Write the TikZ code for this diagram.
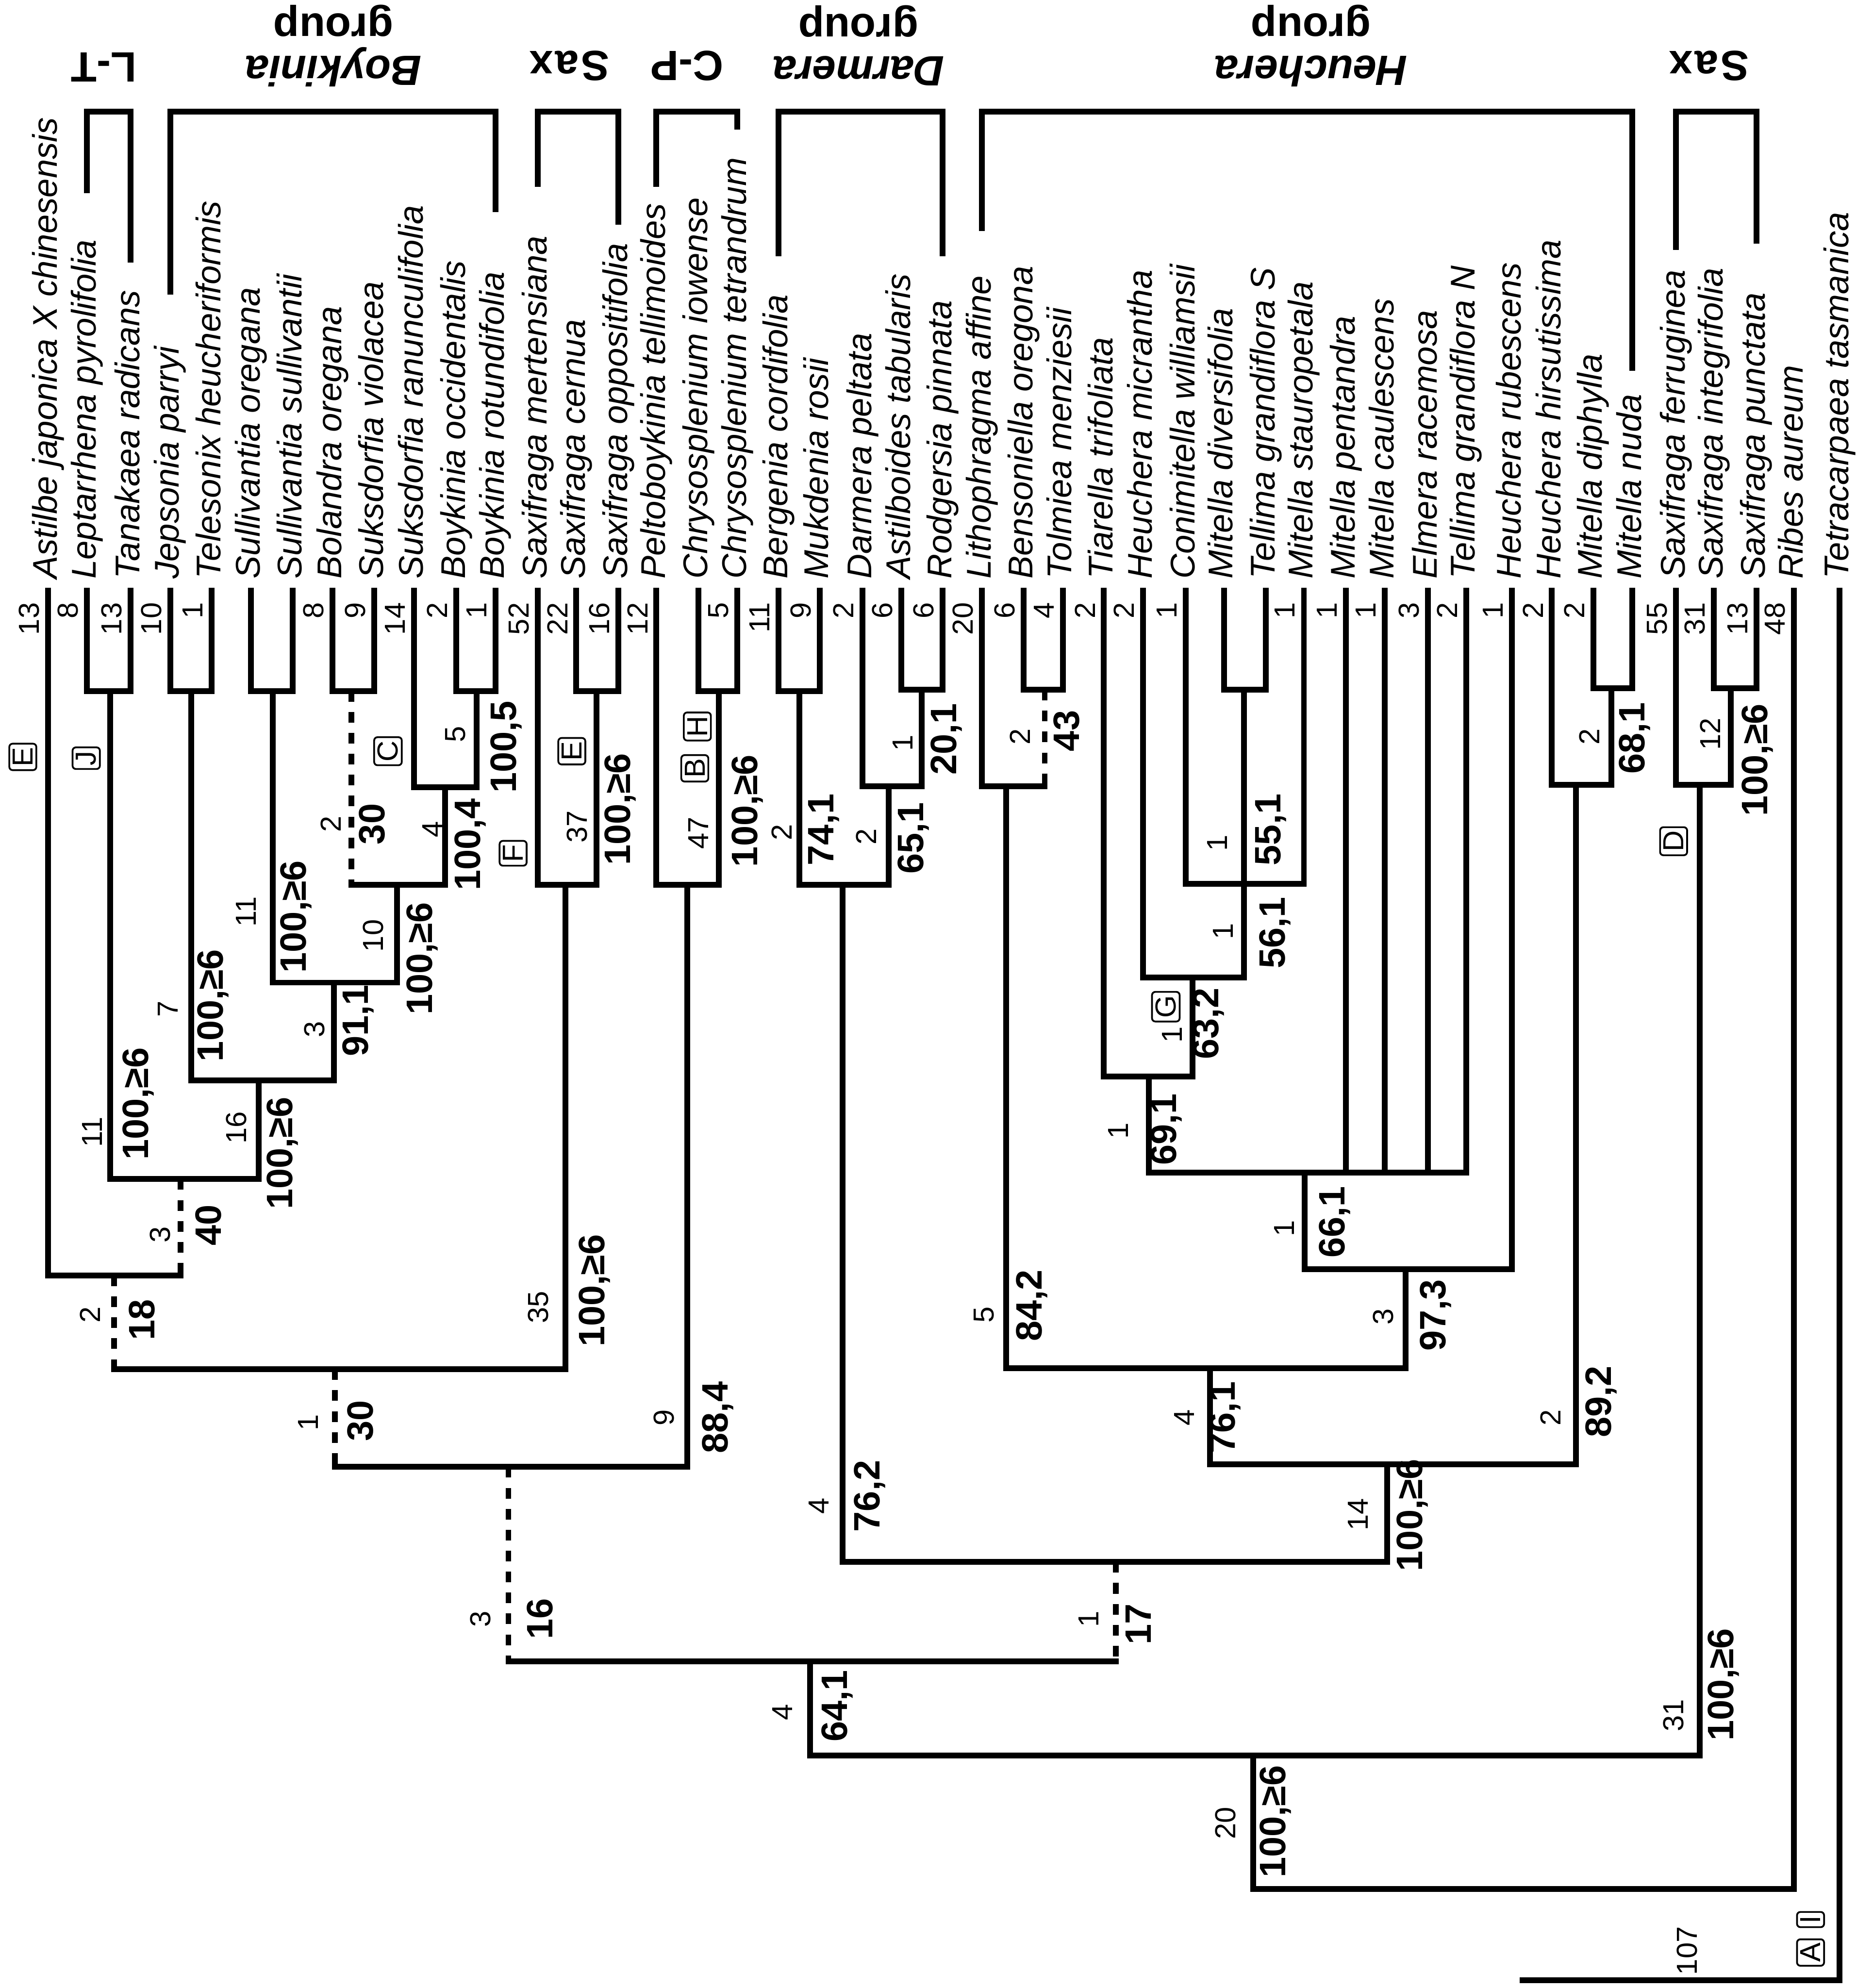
\documentclass[tikz,border=0pt]{standalone}
\usepackage{fontspec}
\setmainfont{Liberation Sans}
\usepackage{tikz}
\usetikzlibrary{positioning}

\begin{document}
\begin{tikzpicture}[x=0.02cm, y=-0.02cm,
  taxon/.style={rotate=90, anchor=west, inner sep=0pt, text height=11pt, text depth=3pt, font=\fontsize{15.4}{16}\selectfont\itshape},
  blen/.style={rotate=90, inner sep=0pt, font=\fontsize{13}{13}\selectfont},
  leaflen/.style={blen, anchor=east},
  boot/.style={rotate=90, inner sep=0pt, font=\fontsize{16.5}{16.5}\selectfont\bfseries},
  charbox/.style={rotate=90, draw, rounded corners=1.5pt, line width=0.8pt, inner sep=1.6pt, font=\fontsize{13}{13}\selectfont},
  grp/.style={rotate=180, align=center, inner sep=0pt, font=\fontsize{19}{19}\selectfont\bfseries},
  tree/.style={line width=2.6pt, line cap=rect},
  dotstem/.style={line width=2.6pt, dash pattern=on 4.8pt off 4.6pt},
  brk/.style={line width=2.6pt, line cap=rect}
]
\fill[white] (0,0) rectangle (1477,1568);
\useasboundingbox (0,0) rectangle (1477,1568);

% taxa
\node (astilbe) [taxon] at (37.9,457) {Astilbe japonica X chinesensis};
\node (leptarrhena) [taxon] at (68.6,457) {Leptarrhena pyrolifolia};
\node (tanakaea) [taxon] at (103,457) {Tanakaea radicans};
\node (jepsonia) [taxon] at (134.2,457) {Jepsonia parryi};
\node (telesonix) [taxon] at (167,457) {Telesonix heucheriformis};
\node (sulore) [taxon] at (198,457) {Sullivantia oregana};
\node (sulsul) [taxon] at (231,457) {Sullivantia sullivantii};
\node (bolandra) [taxon] at (262.4,457) {Bolandra oregana};
\node (suksvio) [taxon] at (295.1,457) {Suksdorfia violacea};
\node (suksran) [taxon] at (326.5,457) {Suksdorfia ranunculifolia};
\node (boyocc) [taxon] at (359.9,457) {Boykinia occidentalis};
\node (boyrot) [taxon] at (390.7,457) {Boykinia rotundifolia};
\node (saxmer) [taxon] at (424.1,457) {Saxifraga mertensiana};
\node (saxcer) [taxon] at (454.5,457) {Saxifraga cernua};
\node (saxopp) [taxon] at (487.7,457) {Saxifraga oppositifolia};
\node (pelto) [taxon] at (517.7,457) {Peltoboykinia tellimoides};
\node (chryiow) [taxon] at (550.9,457) {Chrysosplenium iowense};
\node (chrytet) [taxon] at (581.5,457) {Chrysosplenium tetrandrum};
\node (bergenia) [taxon] at (614,457) {Bergenia cordifolia};
\node (mukdenia) [taxon] at (646.4,457) {Mukdenia rosii};
\node (darmera) [taxon] at (680.3,457) {Darmera peltata};
\node (astilboides) [taxon] at (711,457) {Astilboides tabularis};
\node (rodgersia) [taxon] at (743.5,457) {Rodgersia pinnata};
\node (litho) [taxon] at (774.4,457) {Lithophragma affine};
\node (bensoniella) [taxon] at (807.4,457) {Bensoniella oregona};
\node (tolmiea) [taxon] at (838.2,457) {Tolmiea menziesii};
\node (tiarella) [taxon] at (870.6,457) {Tiarella trifoliata};
\node (heumic) [taxon] at (901.4,457) {Heuchera micrantha};
\node (conimitella) [taxon] at (935.3,457) {Conimitella williamsii};
\node (mitdiv) [taxon] at (965.3,457) {Mitella diversifolia};
\node (telS) [taxon] at (998.4,457) {Tellima grandiflora S};
\node (mitsta) [taxon] at (1028.4,457) {Mitella stauropetala};
\node (mitpen) [taxon] at (1061.6,457) {Mitella pentandra};
\node (mitcau) [taxon] at (1092.3,457) {Mitella caulescens};
\node (elmera) [taxon] at (1126.3,457) {Elmera racemosa};
\node (telN) [taxon] at (1156.3,457) {Tellima grandiflora N};
\node (heurub) [taxon] at (1192.4,457) {Heuchera rubescens};
\node (heuhir) [taxon] at (1224,457) {Heuchera hirsutissima};
\node (mitdip) [taxon] at (1256.6,457) {Mitella diphylla};
\node (mitnud) [taxon] at (1287.3,457) {Mitella nuda};
\node (saxfer) [taxon] at (1321.9,457) {Saxifraga ferruginea};
\node (saxint) [taxon] at (1351.6,457) {Saxifraga integrifolia};
\node (saxpun) [taxon] at (1385.2,457) {Saxifraga punctata};
\node (ribes) [taxon] at (1415,457) {Ribes aureum};
\node (tetra) [taxon] at (1451,457) {Tetracarpaea tasmanica};

% group brackets and names
\coordinate (brkY) at (0,88);
\coordinate (labY) at (0,475);
\draw[brk] (leptarrhena |- 0,150) -- (leptarrhena |- brkY) -- (tanakaea |- brkY) -- (tanakaea |- 0,205);
\draw[brk] (jepsonia |- 0,230) -- (jepsonia |- brkY) -- (boyrot |- brkY) -- (boyrot |- 0,165);
\draw[brk] (saxmer |- 0,145) -- (saxmer |- brkY) -- (saxopp |- brkY) -- (saxopp |- 0,175);
\draw[brk] (pelto |- 0,145) -- (pelto |- brkY) -- (chrytet |- brkY) -- (chrytet |- 0,100);
\draw[brk] (bergenia |- 0,200) -- (bergenia |- brkY) -- (rodgersia |- brkY) -- (rodgersia |- 0,200);
\draw[brk] (litho |- 0,180) -- (litho |- brkY) -- (mitnud |- brkY) -- (mitnud |- 0,290);
\draw[brk] (saxfer |- 0,195) -- (saxfer |- brkY) -- (saxpun |- brkY) -- (saxpun |- 0,190);
\node (lt) [grp] at (82,53) {L-T};
\node (boykgrp) [grp] at (263,36) {\textit{Boykinia}\\group};
\node (saxl) [grp] at (449,52) {S\hspace{1pt}a\hspace{1pt}x};
\node (cp) [grp] at (542,52) {C-P};
\node (darmgrp) [grp] at (677,36) {\textit{Darmera}\\group};
\node (heucgrp) [grp] at (1034,36) {\textit{Heuchera}\\group};
\node (saxr) [grp] at (1348,52) {S\hspace{1pt}a\hspace{1pt}x};

% internal nodes (stem x, bar y)
\coordinate (nLT) at (87,545);
\coordinate (nJT) at (150.8,545);
\coordinate (nSul) at (215,545);
\coordinate (nBS) at (277,545);
\coordinate (nBoy) at (376,545);
\coordinate (nSR) at (351,621);
\coordinate (nBSR) at (313,698);
\coordinate (nSB) at (263.5,775);
\coordinate (nBG) at (204,852);
\coordinate (nH) at (142.5,930);
\coordinate (nG) at (90,1006);
\coordinate (nSaxA) at (470.5,545);
\coordinate (nSax) at (446,698);
\coordinate (nF) at (264,1080);
\coordinate (nChr) at (567,545);
\coordinate (nCP) at (542,698);
\coordinate (nD) at (401,1157);
\coordinate (nBM) at (630.5,545);
\coordinate (nAR) at (727,544);
\coordinate (nDA) at (701,620);
\coordinate (nDar) at (664.5,698);
\coordinate (nBT) at (824,544);
\coordinate (nLith) at (793.5,620);
\coordinate (nP) at (981,544);
\coordinate (nQ) at (981,697);
\coordinate (nR) at (940.5,771);
\coordinate (nS) at (906,849);
\coordinate (nT) at (1029,925);
\coordinate (nU) at (1108.5,1001);
\coordinate (nV) at (954.5,1079);
\coordinate (nMD) at (1271,543);
\coordinate (nHM) at (1243,619);
\coordinate (nW) at (1094,1155);
\coordinate (nE) at (880,1232);
\coordinate (nC) at (639,1310.5);
\coordinate (nSI) at (1365,543);
\coordinate (nSx) at (1340.5,619);
\coordinate (nB) at (988.5,1384.5);
\coordinate (nA) at (1201,1490);
\coordinate (nRoot) at (1326,1562);

% leaf branches
\foreach \c/\p in {astilbe/nG, leptarrhena/nLT, tanakaea/nLT, jepsonia/nJT, telesonix/nJT,
  sulore/nSul, sulsul/nSul, bolandra/nBS, suksvio/nBS, suksran/nSR, boyocc/nBoy, boyrot/nBoy,
  saxmer/nSax, saxcer/nSaxA, saxopp/nSaxA, pelto/nCP, chryiow/nChr, chrytet/nChr,
  bergenia/nBM, mukdenia/nBM, darmera/nDA, astilboides/nAR, rodgersia/nAR,
  litho/nLith, bensoniella/nBT, tolmiea/nBT, tiarella/nS, heumic/nR, conimitella/nQ,
  mitdiv/nP, telS/nP, mitsta/nQ, mitpen/nT, mitcau/nT, elmera/nT, telN/nT, heurub/nU,
  heuhir/nHM, mitdip/nMD, mitnud/nMD, saxfer/nSx, saxint/nSI, saxpun/nSI, ribes/nA, tetra/nRoot}
  \draw[tree] ([yshift=-5pt]\c.west) -- (\c |- \p);

% internal branches
\foreach \c/\p in {nLT/nH, nJT/nBG, nSul/nSB, nBoy/nSR, nSR/nBSR, nBSR/nSB, nSB/nBG, nBG/nH,
  nSaxA/nSax, nSax/nF, nChr/nCP, nCP/nD, nBM/nDar, nAR/nDA, nDA/nDar, nDar/nE, nLith/nV,
  nP/nQ, nQ/nR, nR/nS, nS/nT, nT/nU, nU/nV, nV/nW, nMD/nHM, nHM/nW, nW/nE,
  nSI/nSx, nSx/nB, nC/nB, nB/nA}
  \draw[tree] (\c) -- (\c |- \p);
\foreach \c/\p in {nBS/nBSR, nH/nG, nG/nF, nF/nD, nD/nC, nE/nC, nBT/nLith}
  \draw[dotstem] (\c) -- (\c |- \p);

% bars
\foreach \a/\b/\n in {leptarrhena/tanakaea/nLT, jepsonia/telesonix/nJT, sulore/sulsul/nSul,
  bolandra/suksvio/nBS, boyocc/boyrot/nBoy, suksran/nBoy/nSR, nBS/nSR/nBSR, nSul/nBSR/nSB,
  nJT/nSB/nBG, nLT/nBG/nH, astilbe/nH/nG, saxcer/saxopp/nSaxA, saxmer/nSaxA/nSax, nG/nSax/nF,
  chryiow/chrytet/nChr, pelto/nChr/nCP, nF/nCP/nD, bergenia/mukdenia/nBM,
  astilboides/rodgersia/nAR, darmera/nAR/nDA, nBM/nDA/nDar, bensoniella/tolmiea/nBT,
  litho/nBT/nLith, mitdiv/telS/nP, conimitella/mitsta/nQ, heumic/nQ/nR, tiarella/nR/nS,
  nS/telN/nT, nT/heurub/nU, nLith/nU/nV, mitdip/mitnud/nMD, heuhir/nMD/nHM, nV/nHM/nW,
  nDar/nW/nE, nD/nE/nC, saxint/saxpun/nSI, saxfer/nSI/nSx, nC/nSx/nB, nB/ribes/nA, nA/tetra/nRoot}
  \draw[tree] (\a |- \n) -- (\b |- \n);

% lengths on terminal branches
\foreach \c/\t [count=\i] in {astilbe/13, leptarrhena/8, tanakaea/13, jepsonia/10, telesonix/1,
  bolandra/8, suksvio/9, suksran/14, boyocc/2, boyrot/1, saxmer/52, saxcer/22, saxopp/16,
  pelto/12, chrytet/5, bergenia/11, mukdenia/9, darmera/2, astilboides/6, rodgersia/6,
  litho/20, bensoniella/6, tolmiea/4, tiarella/2, heumic/2, conimitella/1, mitsta/1, mitpen/1,
  mitcau/1, elmera/3, telN/2, heurub/1, heuhir/2, mitdip/2, saxfer/55, saxint/31, saxpun/13, ribes/48}
  \node (tip\i) [leaflen] at ([xshift=-8.5pt]\c |- labY) {\t};

% lengths on internal branches
\foreach \x/\y/\t [count=\i] in {261/650/2, 341/654/4, 359/579/5, 294.4/738/10, 194/719/11,
  132.6/796/7, 248/812/3, 72.6/893/11, 186.3/889.5/16, 126.3/974/3, 71/1037/2, 424.7/1031/35,
  243.2/1122/1, 455/652/37, 551/657/47, 616.5/656.6/2, 683/660/2, 712/586/1, 804.7/581/2,
  960/665/1, 964.5/734.5/1, 924.6/816/1, 882/892/1, 1013/969/1, 1090.8/1038.6/3, 776/1037/5,
  934/1118/4, 1223/1118/2, 1071/1194.6/14, 645.8/1188/4, 523.6/1118/9, 379/1277/3,
  858.5/1277/1, 617/1350.6/4, 1319.8/1353/31, 966.5/1438/20, 1330.7/1538.6/107,
  1253.7/581/2, 1348.8/579/12}
  \node (len\i) [blen] at (\x,\y) {\t};

% bootstrap and decay values
\foreach \x/\y/\t [count=\i] in {293.6/650/30, 371/666/{100,4}, 399.3/589/{100,5},
  333/756/{100,≥6}, 233.6/723/{100,≥6}, 168/793/{100,≥6}, 282.6/805/{91,1},
  109/870.6/{100,≥6}, 222.6/909.7/{100,≥6}, 164.2/966.5/40, 112/1041/18, 469/1018/{100,≥6},
  284.2/1120.7/30, 489.3/638.3/{100,≥6}, 589.6/639.5/{100,≥6}, 649.6/654.4/{74,1},
  720.6/661/{65,1}, 746.6/583/{20,1}, 841.4/576.5/43, 1002.4/654.4/{55,1}, 1005.5/735.6/{56,1},
  953/807.4/{63,2}, 920/890.8/{69,1}, 1052.7/964/{66,1}, 1132.3/1037.3/{97,3}, 814/1029.7/{84,2},
  966/1118/{76,1}, 1262.8/1105.5/{89,2}, 1114/1195/{100,≥6}, 686/1180/{76,2}, 566.2/1118/{88,4},
  425.8/1277/16, 898/1281/17, 660.3/1345.5/{64,1}, 1359.4/1328.6/{100,≥6},
  1006/1436.7/{100,≥6}, 1289.2/582.2/{68,1}, 1386/599.4/{100,≥6}}
  \node (bs\i) [boot] at (\x,\y) {\t};

% character letters
\foreach \x/\y/\t [count=\i] in {18/597/E, 68/598/J, 306/592.5/C, 404.7/673/F, 451/592.5/E,
  548/606/B, 550/573/H, 919.5/794/G, 1320/663.5/D, 1428/1540/A, 1428/1514/I}
  \node (chr\i) [charbox] at (\x,\y) {\t};
\end{tikzpicture}
\end{document}
